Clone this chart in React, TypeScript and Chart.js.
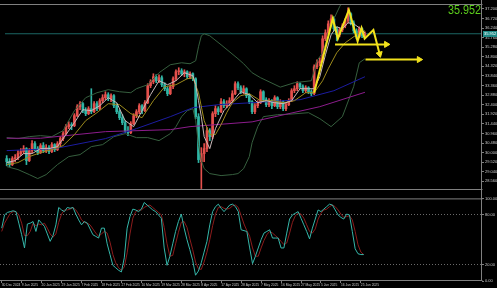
import React, { useEffect, useRef } from 'react';
import { Chart, registerables } from 'chart.js';
Chart.register(...registerables);

// ---------- data ----------
const DATE_LABEL_BARS = [0, 7, 14, 21, 28, 35, 42, 49, 56, 63, 70, 77, 84, 91, 98, 105, 112, 119, 126];
const DATE_LABELS = ['30 Dec 2024', '9 Jan 2025', '20 Jan 2025', '29 Jan 2025', '7 Feb 2025', '18 Feb 2025', '27 Feb 2025', '10 Mar 2025', '19 Mar 2025', '28 Mar 2025', '8 Apr 2025', '17 Apr 2025', '28 Apr 2025', '7 May 2025', '16 May 2025', '27 May 2025', '5 Jun 2025', '16 Jun 2025', '25 Jun 2025'];
const PRICE_TICKS = [37.2, 36.72, 36.24, 35.76, 35.28, 34.8, 34.32, 33.84, 33.36, 32.88, 32.4, 31.92, 31.44, 30.96, 30.48, 30.0, 29.52, 29.04, 28.56];
const STOCH_TICKS = [100, 80, 20, 0];
const BID = 35.952;

const OPEN = [29.70, 29.55, 29.40, 29.70, 29.75, 29.95, 30.05, 30.20, 29.60, 30.10, 30.45, 30.20, 30.00, 30.35, 30.10, 30.25, 30.05, 30.40, 30.15, 30.45,
  30.70, 30.95, 31.30, 31.40, 31.35, 31.85, 32.30, 32.45, 32.10, 31.95, 32.20, 32.05, 32.45, 32.20, 32.60, 32.75, 32.90, 32.70, 32.85, 32.35,
  32.05, 31.75, 31.50, 31.10, 31.00, 31.45, 31.85, 32.05, 32.35, 32.10, 32.50, 33.35, 33.55, 33.80, 33.60, 33.75, 33.40, 33.20, 32.95, 33.30,
  33.70, 34.05, 34.10, 33.95, 34.05, 33.80, 33.95, 33.70, 31.80, 29.55, 29.95, 30.20, 31.10, 30.80, 31.95, 32.20, 32.05, 32.55, 32.35, 32.45,
  32.60, 32.95, 33.45, 33.25, 33.05, 33.20, 32.85, 32.55, 32.05, 32.35, 32.50, 33.05, 32.65, 32.40, 32.60, 32.35, 32.75, 32.30, 32.55, 32.20,
  32.40, 32.60, 33.10, 33.20, 33.45, 33.30, 33.10, 33.25, 33.05, 32.95, 34.30, 34.50, 34.60, 35.70, 36.00, 36.45, 36.70, 36.20, 35.90, 36.15,
  36.35, 36.60, 36.95, 36.50, 36.10, 35.80, 36.20, 35.85];
const HIGH = [29.85, 29.70, 29.80, 29.90, 30.10, 30.20, 30.35, 30.25, 30.20, 30.60, 30.55, 30.30, 30.45, 30.50, 30.40, 30.35, 30.50, 30.45, 30.55, 30.80,
  31.05, 31.40, 31.55, 31.50, 31.95, 32.40, 32.55, 32.50, 32.25, 32.30, 33.20, 32.55, 32.55, 32.70, 32.90, 33.05, 33.00, 32.95, 32.90, 32.45,
  32.15, 31.90, 31.60, 31.30, 31.55, 31.95, 32.15, 32.45, 32.40, 32.60, 33.45, 33.65, 33.95, 33.90, 33.90, 33.85, 33.50, 33.30, 33.40, 33.80,
  34.15, 34.25, 34.20, 34.15, 34.10, 34.05, 34.00, 33.75, 31.95, 30.25, 30.45, 31.25, 31.20, 32.05, 32.35, 32.30, 32.70, 32.65, 32.60, 32.75,
  33.10, 33.55, 33.55, 33.35, 33.35, 33.25, 32.95, 32.60, 32.45, 32.60, 33.15, 33.10, 32.75, 32.70, 32.65, 32.85, 32.80, 32.65, 32.60, 32.50,
  32.70, 33.20, 33.35, 33.55, 33.50, 33.40, 33.35, 33.30, 33.15, 34.40, 34.65, 34.75, 35.85, 36.15, 36.60, 36.90, 36.80, 36.30, 36.25, 36.45,
  36.70, 37.25, 37.00, 36.60, 36.20, 36.30, 36.25, 36.05];
const LOW = [29.35, 29.30, 29.35, 29.55, 29.65, 29.85, 29.95, 29.40, 29.55, 30.00, 30.10, 29.90, 29.95, 30.00, 30.00, 29.95, 30.00, 30.05, 30.10, 30.35,
  30.60, 30.90, 31.20, 31.15, 31.30, 31.80, 32.15, 32.00, 31.85, 31.90, 31.95, 32.00, 32.10, 32.15, 32.50, 32.65, 32.60, 32.55, 32.25, 31.95,
  31.65, 31.40, 31.00, 30.85, 30.95, 31.40, 31.75, 31.95, 31.95, 32.05, 32.45, 33.25, 33.45, 33.50, 33.50, 33.30, 33.10, 32.85, 32.90, 33.20,
  33.60, 33.90, 33.85, 33.80, 33.70, 33.70, 33.60, 31.70, 29.50, 28.20, 29.55, 30.05, 30.60, 30.70, 31.80, 31.90, 32.00, 32.25, 32.25, 32.35,
  32.50, 32.90, 33.15, 32.95, 32.95, 32.75, 32.45, 31.95, 31.95, 32.25, 32.45, 32.55, 32.30, 32.30, 32.20, 32.30, 32.20, 32.20, 32.10, 32.10,
  32.35, 32.55, 33.00, 33.10, 33.20, 33.00, 33.00, 32.95, 32.85, 32.90, 34.20, 34.35, 34.55, 35.60, 35.90, 36.35, 36.10, 35.60, 35.80, 36.05,
  36.25, 36.50, 36.40, 36.00, 35.70, 35.75, 35.75, 35.80];
const CLOSE = [29.55, 29.40, 29.70, 29.75, 29.95, 30.05, 30.20, 29.60, 30.10, 30.45, 30.20, 30.00, 30.35, 30.10, 30.25, 30.05, 30.40, 30.15, 30.45, 30.70,
  30.95, 31.30, 31.40, 31.35, 31.85, 32.30, 32.45, 32.10, 31.95, 32.20, 32.05, 32.45, 32.20, 32.60, 32.75, 32.90, 32.70, 32.85, 32.35, 32.05,
  31.75, 31.50, 31.10, 31.00, 31.45, 31.85, 32.05, 32.35, 32.10, 32.50, 33.35, 33.55, 33.80, 33.60, 33.75, 33.40, 33.20, 32.95, 33.30, 33.70,
  34.05, 34.10, 33.95, 34.05, 33.80, 33.95, 33.70, 31.80, 29.65, 29.95, 30.20, 31.10, 30.80, 31.95, 32.20, 32.05, 32.55, 32.35, 32.45, 32.60,
  32.95, 33.45, 33.25, 33.05, 33.20, 32.85, 32.55, 32.05, 32.35, 32.50, 33.05, 32.65, 32.40, 32.60, 32.35, 32.75, 32.30, 32.55, 32.20, 32.40,
  32.60, 33.10, 33.20, 33.45, 33.30, 33.10, 33.25, 33.05, 32.95, 34.30, 34.50, 34.60, 35.70, 36.00, 36.45, 36.70, 36.20, 35.90, 36.15, 36.35,
  36.60, 36.95, 36.50, 36.10, 35.80, 36.20, 35.85, 35.952];

const BB_UPPER = [[0, 30.75], [4, 30.70], [8, 30.80], [12, 30.85], [16, 30.80], [20, 31.10], [24, 32.10], [28, 32.75], [32, 33.00], [36, 33.15], [40, 33.05], [44, 33.00], [46, 33.20], [50, 33.40], [54, 34.00], [58, 34.40], [62, 34.50], [65, 34.45], [67, 34.60], [68, 35.30], [69, 35.85], [70, 35.95], [72, 35.85], [76, 35.40], [82, 34.70], [84, 34.45], [87, 34.00], [90, 33.75], [97, 33.28], [102, 33.50], [108, 33.60], [110, 34.60], [112, 35.00], [114, 35.90], [116, 36.70], [118, 37.30], [120, 37.80], [124, 38.00], [127, 38.00]];
const BB_LOWER = [[0, 29.30], [4, 29.15], [8, 28.90], [11, 28.70], [14, 28.90], [18, 29.40], [22, 29.80], [26, 29.90], [30, 30.30], [34, 30.40], [38, 30.80], [42, 30.95], [44, 30.85], [46, 30.75], [50, 30.75], [54, 30.60], [58, 30.95], [60, 31.30], [62, 31.80], [64, 32.10], [66, 32.20], [67, 31.60], [68, 30.40], [69, 29.60], [70, 29.20], [72, 28.95], [76, 28.85], [80, 28.90], [82, 28.95], [84, 29.20], [86, 29.80], [87, 30.50], [89, 31.30], [91, 31.80], [96, 31.90], [100, 31.92], [107, 32.00], [111, 31.70], [115, 31.30], [119, 31.80], [123, 33.30], [125, 34.50], [127, 34.70]];
const MA_FAST = [[0, 29.5], [3, 29.6], [6, 29.95], [9, 29.95], [12, 30.2], [15, 30.2], [18, 30.3], [21, 30.9], [24, 31.5], [27, 32.15], [30, 32.1], [33, 32.35], [36, 32.75], [39, 32.5], [42, 31.6], [45, 31.3], [48, 32.1], [51, 32.9], [54, 33.6], [57, 33.4], [60, 33.6], [63, 34.0], [66, 33.85], [67, 33.4], [68, 32.6], [69, 31.8], [70, 30.8], [72, 30.2], [74, 31.2], [77, 32.1], [80, 32.55], [83, 33.05], [86, 32.9], [89, 32.5], [92, 32.6], [95, 32.5], [98, 32.45], [101, 32.6], [104, 33.2], [107, 33.2], [109, 33.2], [111, 33.8], [113, 34.9], [115, 35.9], [117, 36.3], [119, 36.2], [121, 36.5], [123, 36.45], [125, 36.25], [127, 36.0]];
const MA_OLIVE = [[0, 29.4], [4, 29.5], [8, 29.8], [12, 30.0], [16, 30.15], [20, 30.35], [24, 30.9], [28, 31.6], [32, 32.0], [36, 32.45], [40, 32.4], [44, 31.95], [48, 31.75], [52, 32.6], [56, 33.3], [60, 33.4], [64, 33.7], [66, 33.75], [68, 33.0], [70, 31.6], [72, 30.9], [74, 30.9], [76, 31.4], [78, 32.0], [80, 32.5], [83, 32.85], [86, 32.95], [90, 32.6], [94, 32.6], [98, 32.5], [102, 32.6], [106, 33.0], [109, 33.0], [112, 33.6], [114, 34.2], [117, 35.0], [120, 35.5], [125, 36.0], [127, 36.1]];
const MA_BLUE = [[0, 30.10], [17, 30.20], [35, 30.70], [46, 31.20], [58, 31.80], [66, 32.25], [75, 32.40], [87, 32.50], [104, 32.65], [116, 33.10], [127, 33.80]];
const MA_PURPLE = [[0, 30.72], [12, 30.72], [35, 31.05], [58, 31.15], [65, 31.30], [87, 31.54], [99, 31.92], [111, 32.30], [127, 33.02]];

const ZIGZAG = [[109.0, 33.0], [115.6, 36.72], [117.4, 35.71], [121.3, 37.15], [124.4, 35.57], [125.8, 36.24], [126.9, 35.71], [130.0, 36.14], [132.2, 34.94]];
const TARGET_1 = [[116.4, 35.42], [134.6, 35.42]];
const TARGET_2 = [[127.2, 34.66], [146.2, 34.66]];

const STOCH_K = [64, 80, 83, 84, 85, 84, 70, 56, 40, 69, 70, 72, 60, 74, 70, 66, 57, 48, 55, 68, 89, 86, 84, 89, 88, 89, 81, 74, 68, 72, 70, 63, 56, 54, 52, 64, 64, 45, 32, 19,
  16, 13, 11, 28, 64, 78, 87, 86, 84, 87, 95, 92, 89, 86, 84, 80, 76, 40, 19, 30, 45, 60, 72, 81, 64, 50, 38, 25, 7, 12, 22, 35, 48, 68, 84, 90, 93, 88, 84, 88,
  92, 93, 90, 84, 62, 61, 60, 40, 21, 30, 40, 50, 58, 60, 62, 52, 52, 52, 40, 40, 58, 75, 80, 82, 84, 76, 68, 60, 51, 64, 75, 86, 84, 87, 90, 93, 92, 86, 80, 77,
  75, 81, 80, 60, 39, 33, 32, 32];
const STOCH_D = [60, 70, 76, 82, 84, 84, 80, 70, 55, 55, 60, 70, 67, 69, 68, 70, 64, 57, 53, 57, 71, 81, 86, 86, 87, 89, 86, 81, 74, 71, 70, 68, 63, 58, 54, 57, 60, 58, 47, 32,
  22, 16, 13, 17, 34, 57, 76, 84, 86, 86, 89, 91, 92, 89, 86, 83, 80, 65, 45, 30, 31, 45, 59, 71, 72, 65, 51, 38, 23, 15, 14, 23, 35, 50, 67, 81, 89, 90, 88, 87,
  88, 91, 92, 89, 79, 69, 61, 54, 40, 30, 30, 40, 49, 56, 60, 58, 55, 52, 48, 44, 46, 58, 71, 79, 82, 81, 76, 68, 60, 58, 63, 75, 82, 86, 87, 90, 92, 90, 86, 81,
  77, 78, 79, 74, 60, 44, 35, 32];

// ---------- styling ----------
const X_MIN = -0.6;
const X_MAX = 168.5;
const Y_MIN = 28.128;
const Y_MAX = 37.392;
const BULL = '#e4504c';
const BEAR = '#2fb5a5';
const FRAME = '#808080';
const TEXT = '#c8c8c8';
const YELLOW = '#f2e21c';
const FONT = { family: 'Liberation Sans', size: 4 };
const DATE_FONT = { family: 'Liberation Sans', size: 3.3 };

const pts = (arr: number[][]) => arr.map(([x, y]) => ({ x, y }));
const line = (data: number[][], color: string, order: number, width = 1) => ({
  type: 'line' as const,
  data: pts(data),
  borderColor: color,
  borderWidth: width,
  pointRadius: 0,
  tension: 0,
  fill: false,
  order,
});
const arrowLine = (data: number[][], rotation: number) => ({
  type: 'line' as const,
  data: pts(data),
  borderColor: YELLOW,
  borderWidth: 2,
  tension: 0,
  fill: false,
  order: 0,
  pointStyle: 'triangle',
  pointRotation: rotation,
  pointBackgroundColor: YELLOW,
  pointBorderColor: YELLOW,
  pointBorderWidth: 1,
  pointRadius: (c: any) => (c.dataIndex === data.length - 1 ? 3.5 : 0),
  clip: false as any,
});

const mainFrame = {
  id: 'mainFrame',
  afterDraw(chart: any) {
    const { ctx, chartArea: a } = chart;
    ctx.save();
    ctx.strokeStyle = FRAME;
    ctx.lineWidth = 1;
    ctx.beginPath();
    ctx.moveTo(0, a.top - 0.5); ctx.lineTo(a.right + 0.5, a.top - 0.5);
    ctx.moveTo(0, a.bottom - 0.5); ctx.lineTo(a.right + 0.5, a.bottom - 0.5);
    ctx.moveTo(a.right - 0.5, 0); ctx.lineTo(a.right - 0.5, chart.height);
    ctx.stroke();
    const y = chart.scales.y.getPixelForValue(BID);
    ctx.fillStyle = '#1f8a86';
    ctx.fillRect(a.right + 1, Math.round(y) - 3, 14, 6);
    ctx.fillStyle = '#ffffff';
    ctx.font = '4px "Liberation Sans"';
    ctx.textBaseline = 'middle';
    ctx.textAlign = 'left';
    ctx.fillText(BID.toFixed(3), a.right + 2, Math.round(y));
    ctx.font = '13px "Liberation Sans"';
    ctx.fillStyle = '#5ccf1c';
    ctx.textAlign = 'right';
    ctx.textBaseline = 'alphabetic';
    ctx.fillText(BID.toFixed(3), a.right - 1, 13.5, 33);
    ctx.restore();
  },
};

const subFrame = {
  id: 'subFrame',
  afterDraw(chart: any) {
    const { ctx, chartArea: a } = chart;
    ctx.save();
    ctx.strokeStyle = FRAME;
    ctx.lineWidth = 1;
    ctx.beginPath();
    ctx.moveTo(0, a.top + 0.5); ctx.lineTo(a.right + 0.5, a.top + 0.5);
    ctx.moveTo(0, a.bottom - 0.5); ctx.lineTo(a.right + 0.5, a.bottom - 0.5);
    ctx.moveTo(a.right - 0.5, 0); ctx.lineTo(a.right - 0.5, a.bottom);
    ctx.stroke();
    ctx.restore();
  },
};

export default function App() {
  const mainRef = useRef<HTMLCanvasElement>(null);
  const subRef = useRef<HTMLCanvasElement>(null);

  useEffect(() => {
    document.body.style.margin = '0';
    document.body.style.background = '#000';

    const bodies = CLOSE.map((c, i) => ({ x: i, y: [OPEN[i], c] }));
    const wicks = HIGH.map((h, i) => ({ x: i, y: [LOW[i], h] }));
    const colors = CLOSE.map((c, i) => (c >= OPEN[i] ? BULL : BEAR));

    const main = new Chart(mainRef.current as HTMLCanvasElement, {
      type: 'bar',
      data: {
        datasets: [
          arrowLine(ZIGZAG, 166) as any,
          arrowLine(TARGET_1, 90) as any,
          arrowLine(TARGET_2, 90) as any,
          line(MA_FAST, '#c9b9b9', 2),
          line(MA_OLIVE, '#9c8a1c', 2),
          line(MA_BLUE, '#1c1ca0', 3),
          line(MA_PURPLE, '#8c1c8c', 3),
          line(BB_UPPER, '#365f3e', 3),
          line(BB_LOWER, '#365f3e', 3),
          {
            type: 'bar',
            data: bodies as any,
            backgroundColor: colors,
            barThickness: 2,
            minBarLength: 1,
            grouped: false,
            order: 5,
          } as any,
          {
            type: 'bar',
            data: wicks as any,
            backgroundColor: colors,
            barThickness: 1,
            grouped: false,
            order: 6,
          } as any,
          line([[X_MIN - 1, BID], [X_MAX + 1, BID]], '#1b6663', 9),
        ],
      },
      options: {
        responsive: false,
        animation: false,
        devicePixelRatio: 1,
        layout: { padding: { top: 1, bottom: 1, left: 0, right: 0 } },
        plugins: { legend: { display: false }, tooltip: { enabled: false } },
        scales: {
          x: {
            type: 'linear',
            min: X_MIN,
            max: X_MAX,
            offset: false,
            display: false,
            grid: { offset: false },
          },
          y: {
            type: 'linear',
            position: 'right',
            min: Y_MIN,
            max: Y_MAX,
            beginAtZero: false,
            afterFit: (s: any) => { s.width = 15; },
            afterBuildTicks: (s: any) => { s.ticks = PRICE_TICKS.map((v) => ({ value: v })); },
            border: { display: false },
            grid: { drawOnChartArea: false, drawTicks: true, tickLength: 2, tickColor: FRAME },
            ticks: {
              autoSkip: false,
              padding: 1,
              color: TEXT,
              font: FONT,
              callback: (v: any) => Number(v).toFixed(3),
            },
          },
        },
      } as any,
      plugins: [mainFrame],
    });

    const sub = new Chart(subRef.current as HTMLCanvasElement, {
      type: 'line',
      data: {
        datasets: [
          { data: STOCH_K.map((v, i) => ({ x: i, y: v })), borderColor: '#35b7aa', borderWidth: 1, pointRadius: 0, tension: 0, order: 0 },
          { data: STOCH_D.map((v, i) => ({ x: i, y: v })), borderColor: '#8c1c1c', borderWidth: 1, pointRadius: 0, tension: 0, order: 1 },
        ],
      },
      options: {
        responsive: false,
        animation: false,
        devicePixelRatio: 1,
        layout: { padding: { top: 1, bottom: 0, left: 0, right: 0 } },
        plugins: { legend: { display: false }, tooltip: { enabled: false } },
        scales: {
          x: {
            type: 'linear',
            min: X_MIN,
            max: X_MAX,
            offset: false,
            afterFit: (s: any) => { s.height = 7; },
            afterBuildTicks: (s: any) => { s.ticks = DATE_LABEL_BARS.map((v) => ({ value: v })); },
            border: { display: false },
            grid: { drawOnChartArea: false, drawTicks: true, tickLength: 2, tickColor: FRAME },
            ticks: {
              autoSkip: false,
              maxRotation: 0,
              minRotation: 0,
              align: 'start',
              padding: 0,
              color: TEXT,
              font: DATE_FONT,
              callback: (_v: any, idx: number) => DATE_LABELS[idx],
            },
          },
          y: {
            type: 'linear',
            position: 'right',
            min: 0,
            max: 100,
            afterFit: (s: any) => { s.width = 15; },
            afterBuildTicks: (s: any) => { s.ticks = STOCH_TICKS.map((v) => ({ value: v })); },
            border: { display: false, dash: [1, 2] },
            grid: {
              drawOnChartArea: true,
              drawTicks: true,
              tickLength: 2,
              tickColor: FRAME,
              color: (c: any) => (c.tick && (c.tick.value === 80 || c.tick.value === 20) ? '#6a6a6a' : 'rgba(0,0,0,0)'),
            },
            ticks: {
              autoSkip: false,
              padding: 1,
              color: TEXT,
              font: FONT,
              callback: (v: any) => Number(v).toFixed(2),
            },
          },
        },
      } as any,
      plugins: [subFrame],
    });

    return () => {
      main.destroy();
      sub.destroy();
    };
  }, []);

  return (
    <div style={{ position: 'relative', width: 497, height: 288, background: '#000', overflow: 'hidden' }}>
      <canvas ref={mainRef} width={497} height={195} style={{ position: 'absolute', left: 0, top: 0, width: 497, height: 195 }} />
      <canvas ref={subRef} width={497} height={93} style={{ position: 'absolute', left: 0, top: 195, width: 497, height: 93 }} />
    </div>
  );
}
